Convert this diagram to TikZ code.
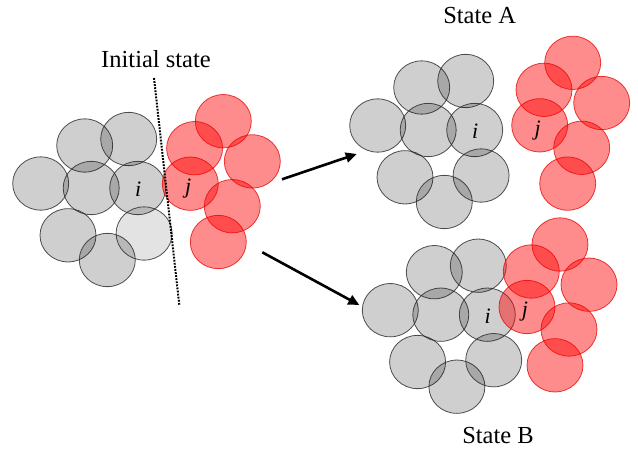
\documentclass[tikz,border=0pt]{standalone}
\usepackage{fontspec}
\setmainfont{Liberation Serif}
\usetikzlibrary{shapes.geometric,arrows.meta}
\tikzset{
 ball/.style={ellipse, minimum width=56pt, minimum height=53.3pt, inner sep=0pt, line width=0.8pt},
 gball/.style={ball, draw=black!85, draw opacity=0.8, fill=black, fill opacity=0.19},
 lball/.style={ball, draw=black!85, draw opacity=0.8, fill=black, fill opacity=0.11},
 rball/.style={ball, draw=red!90!black, draw opacity=0.75, fill=red, fill opacity=0.45},
 lbl/.style={font=\fontsize{22}{22}\selectfont\itshape, inner sep=0pt},
 title/.style={font=\fontsize{24.5}{25}\selectfont, anchor=base, inner sep=0pt},
 move/.style={-{Triangle[length=11pt,width=10pt]}, line width=2.6pt},
 divider/.style={line width=2pt, dash pattern=on 1.8pt off 1.3pt}
}
\newcommand\grayclust[2]{%
 \begin{scope}[shift={#2}]
  \node[gball] (#1l)  at (-97,-4.5) {};
  \node[gball] (#1tl) at (-53,-42.5) {};
  \node[gball] (#1tr) at (-9,-49) {};
  \node[gball] (#1m)  at (-46.5,0) {};
  \node[gball] (#1i)  at (0,0) {};
  \node[gball] (#1bl) at (-69.7,47.3) {};
  \node[gball] (#1b)  at (-30.4,72) {};
 \end{scope}}
\newcommand\redclust[2]{%
 \begin{scope}[shift={#2}]
  \node[rball] (#1t)  at (33,-62.5) {};
  \node[rball] (#1ul) at (4.3,-35.5) {};
  \node[rball] (#1r)  at (62,-22.3) {};
  \node[rball] (#1j)  at (0,0) {};
  \node[rball] (#1mr) at (42,22.5) {};
  \node[rball] (#1b)  at (28,58.3) {};
 \end{scope}}
\begin{document}
\begin{tikzpicture}[x=1pt,y=-1pt]
\useasboundingbox (0,0) rectangle (638,448);
% initial state
\grayclust{g0}{(137.7,188)}
\node[lball] (g0br) at (144.1,233.5) {};
\redclust{r0}{(190.3,183.7)}
\node[lbl] (li0) at ([shift={(0.5,1.5)}]g0i.center) {i};
\node[lbl] (lj0) at ([shift={(-2,5)}]r0j.center) {j};
\node[title] (tinit) at (156,67.3) {Initial state};
\coordinate (d1) at (154,78);
\coordinate (d2) at (179.3,305);
\draw[divider] (d1) -- (d2);
% state A
\grayclust{gA}{(474.7,130)}
\node[gball] (gAbr) at (481.1,175.5) {};
\redclust{rA}{(539.7,125.3)}
\node[lbl] (liA) at ([shift={(0.5,1.5)}]gAi.center) {i};
\node[lbl] (ljA) at ([shift={(-2,5)}]rAj.center) {j};
\node[title] (tA) at (479.7,23.3) {State A};
% state B
\grayclust{gB}{(487.3,314.7)}
\node[gball] (gBbr) at (493.7,360.2) {};
\redclust{rB}{(527,307)}
\node[lbl] (liB) at ([shift={(0.5,1.5)}]gBi.center) {i};
\node[lbl] (ljB) at ([shift={(-2,5)}]rBj.center) {j};
\node[title] (tB) at (498,443.3) {State B};
% arrows
\coordinate (a1s) at (282,179.3);
\coordinate (a1e) at (356.7,154);
\coordinate (a2s) at (262.3,252.3);
\coordinate (a2e) at (359.3,305);
\draw[move] (a1s) -- (a1e);
\draw[move] (a2s) -- (a2e);
\end{tikzpicture}
\end{document}
